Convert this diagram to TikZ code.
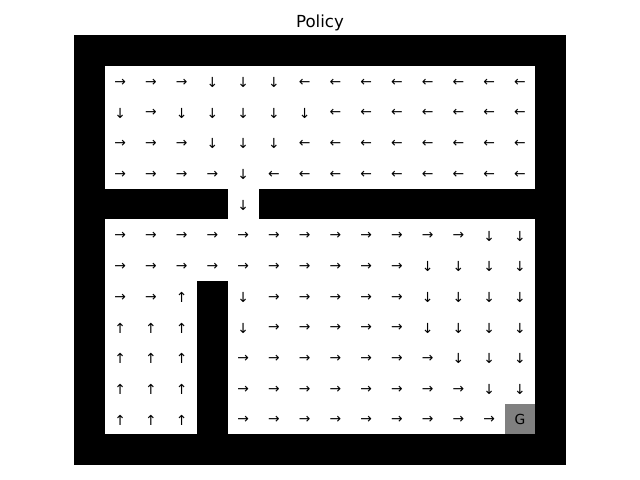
\documentclass[tikz,border=0pt]{standalone}
\usepackage{fontspec}
\setmainfont{DejaVu Sans}
\usetikzlibrary{positioning}

\newcommand{\polR}{→}
\newcommand{\polL}{←}
\newcommand{\polU}{↑}
\newcommand{\polD}{↓}

\tikzset{
  arrowcell/.style={inner sep=0pt, font=\fontsize{10}{12}\selectfont},
  goalcell/.style={fill={rgb,255:red,128;green,128;blue,128}},
}

\begin{document}
\begin{tikzpicture}[x=0.01in, y=-0.01in]
  \useasboundingbox (0,0) rectangle (640,480);
  \node[anchor=base, font=\fontsize{12}{14}\selectfont] (title) at (320,27.5) {Policy};

  % walls, then the open cells
  \fill[black] (74,35) rectangle (566,465);
  \fill[white] (104.75,65.71) rectangle (535.25,188.55);
  \fill[white] (227.75,188.55) rectangle (258.5,219.26);
  \fill[white] (104.75,219.26) rectangle (535.25,434.23);
  \fill[black] (197,280.68) rectangle (227.75,434.23);
  \fill[goalcell] (504.5,403.52) rectangle (535.25,434.23);
  \node[arrowcell] (goal) at (519.875,419.5) {G};

  % policy, one row per line (N = no arrow)
  \foreach \codes [count=\r] in {
    {R,R,R,D,D,D,L,L,L,L,L,L,L,L},
    {D,R,D,D,D,D,D,L,L,L,L,L,L,L},
    {R,R,R,D,D,D,L,L,L,L,L,L,L,L},
    {R,R,R,R,D,L,L,L,L,L,L,L,L,L},
    {N,N,N,N,D,N,N,N,N,N,N,N,N,N},
    {R,R,R,R,R,R,R,R,R,R,R,R,D,D},
    {R,R,R,R,R,R,R,R,R,R,D,D,D,D},
    {R,R,U,N,D,R,R,R,R,R,D,D,D,D},
    {U,U,U,N,D,R,R,R,R,R,D,D,D,D},
    {U,U,U,N,R,R,R,R,R,R,R,D,D,D},
    {U,U,U,N,R,R,R,R,R,R,R,R,D,D},
    {U,U,U,N,R,R,R,R,R,R,R,R,R,N}} {
    \foreach \k [count=\c] in \codes {
      \if\k N\else
        \node[arrowcell] (a-\r-\c) at (74+30.75*\c+15.375, 35+30.71*\r+16.8) {\csname pol\k\endcsname};
      \fi
    }
  }
\end{tikzpicture}
\end{document}
